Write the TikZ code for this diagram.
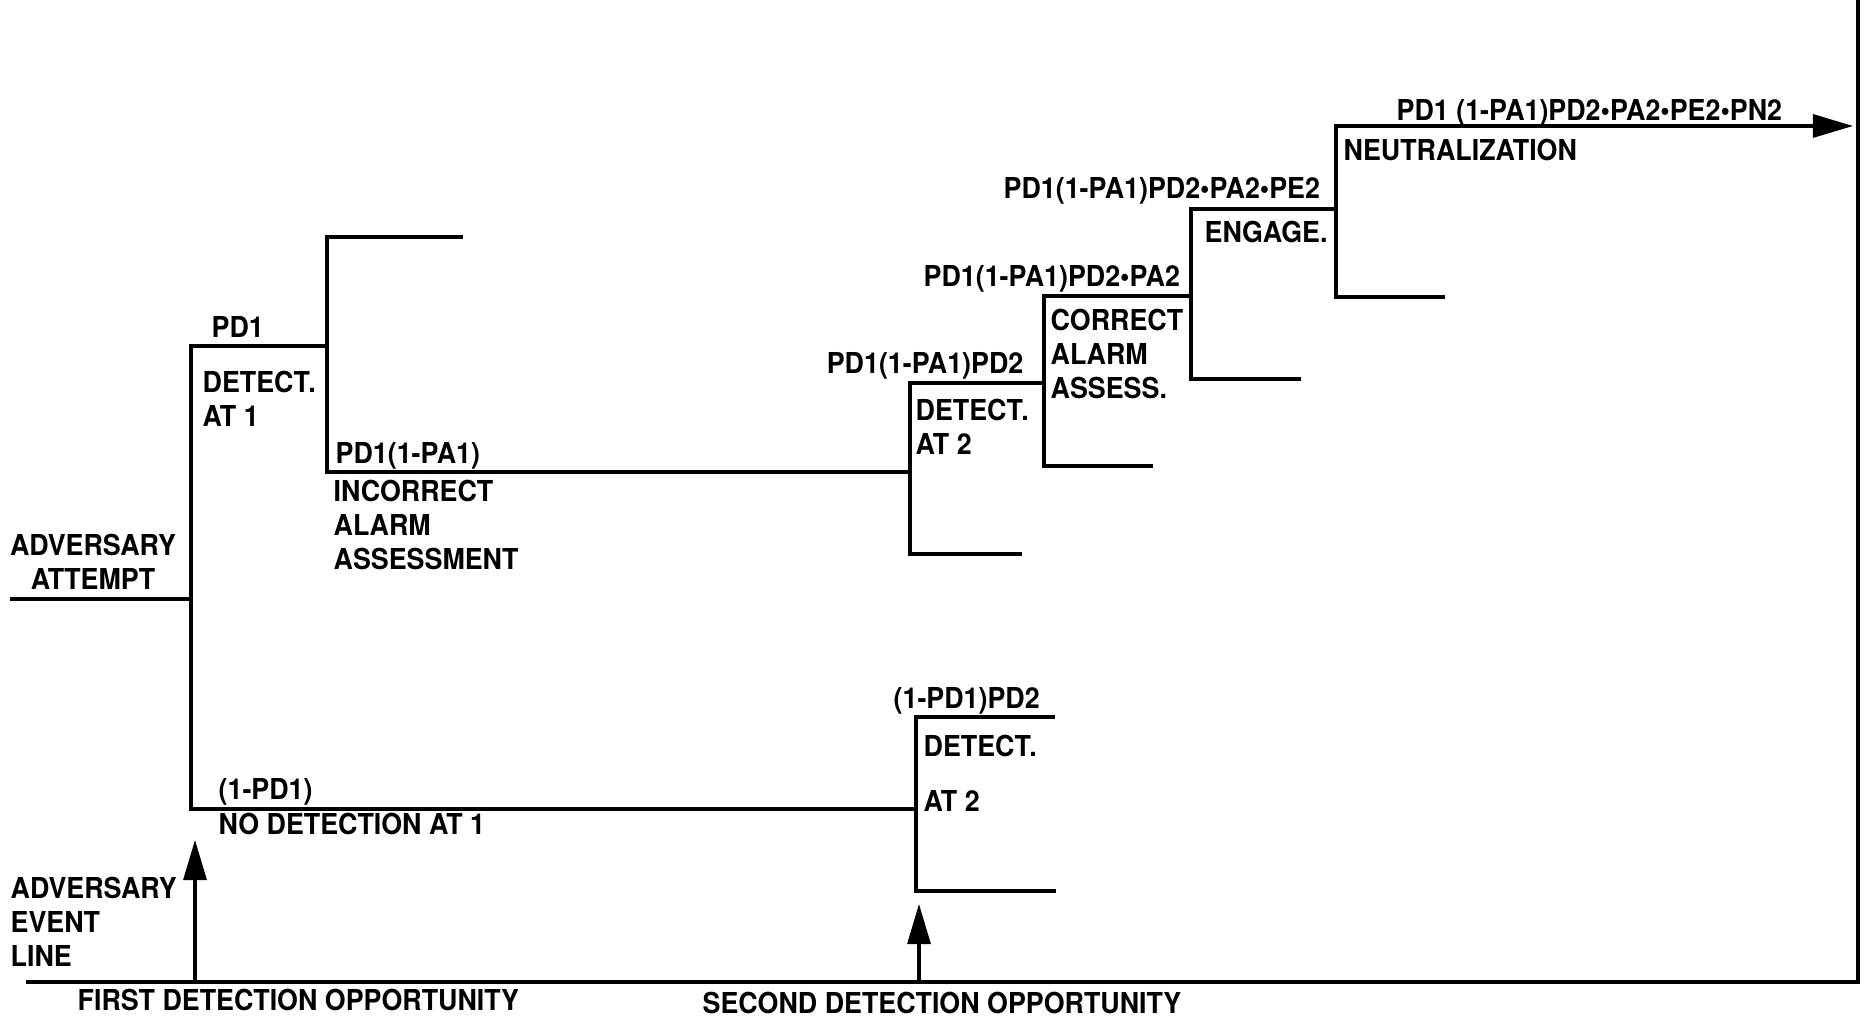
\documentclass[tikz,border=0pt]{standalone}
\usepackage{fontspec}
\newfontfamily\evtfont[FakeStretch=0.93]{TeX Gyre Heros}
\usepackage{tikz}
\usetikzlibrary{arrows.meta}

\begin{document}
\begin{tikzpicture}[
  x=0.01cm, y=-0.01cm,
  branch/.style={line width=0.9pt, line cap=rect},
  frame/.style={line width=1.1pt},
  evtarrow/.style={line width=0.9pt, -{Triangle[length=4mm, width=2.3mm]}},
  lab/.style={font=\evtfont\bfseries\fontsize{8.2}{9.8}\selectfont, inner sep=0pt, anchor=base west},
  multi/.style={lab, align=left, anchor=north west}
]
\useasboundingbox (0,0) rectangle (1865,1019);

% Tree junctions
\coordinate (att) at (12,599);
\coordinate (root) at (191,599);
\coordinate (d1top) at (191,346);
\coordinate (d1bot) at (191,809);
\coordinate (a1) at (327,346);
\coordinate (a1top) at (327,237);
\coordinate (a1stub) at (461,237);
\coordinate (a1bot) at (327,472);
\coordinate (d2) at (910,472);
\coordinate (d2top) at (910,383);
\coordinate (d2bot) at (910,554);
\coordinate (d2stub) at (1020,554);
\coordinate (a2) at (1044,383);
\coordinate (a2top) at (1044,296);
\coordinate (a2bot) at (1044,466);
\coordinate (a2stub) at (1151,466);
\coordinate (e2) at (1191,296);
\coordinate (e2top) at (1191,209);
\coordinate (e2bot) at (1191,379);
\coordinate (e2stub) at (1299,379);
\coordinate (n2) at (1336,209);
\coordinate (n2top) at (1336,126);
\coordinate (n2bot) at (1336,297);
\coordinate (n2stub) at (1443,297);
\coordinate (goal) at (1853,126);

% Branch with no detection at 1
\coordinate (m2) at (916,809);
\coordinate (m2top) at (916,717);
\coordinate (m2bot) at (916,891);
\coordinate (m2topstub) at (1053,717);
\coordinate (m2botstub) at (1054,891);

% Event line and frame
\coordinate (evl) at (26,982);
\coordinate (evr) at (1858,982);
\coordinate (frametop) at (1858,0);
\coordinate (op1) at (195,982);
\coordinate (op1tip) at (195,840);
\coordinate (op2) at (919,982);
\coordinate (op2tip) at (919,904);

\draw[branch] (att) -- (root);
\draw[branch] (d1top) -- (d1bot);
\draw[branch] (d1top) -- (a1);
\draw[branch] (a1stub) -- (a1top) -- (a1bot) -- (d2);
\draw[branch] (d2stub) -- (d2bot) -- (d2top) -- (a2);
\draw[branch] (a2stub) -- (a2bot) -- (a2top) -- (e2);
\draw[branch] (e2stub) -- (e2bot) -- (e2top) -- (n2);
\draw[branch] (n2stub) -- (n2bot) -- (n2top);
\draw[evtarrow] (n2top) -- (goal);

\draw[branch] (d1bot) -- (m2);
\draw[branch] (m2topstub) -- (m2top) -- (m2bot) -- (m2botstub);

\draw[frame] (evl) -- (evr) -- (frametop);
\draw[evtarrow] (op1) -- (op1tip);
\draw[evtarrow] (op2) -- (op2tip);

% Labels
\node[multi, align=center, anchor=north] (attempt) at (93,533) {ADVERSARY\\ATTEMPT};
\node[lab] (pd1) at (211,338) {PD1};
\node[multi] (det1) at (202,370) {DETECT.\\AT 1};
\node[lab] (pa1) at (335,464) {PD1(1-PA1)};
\node[multi] (incorrect) at (333,479) {INCORRECT\\ALARM\\ASSESSMENT};
\node[lab, anchor=base east] (pd2) at (1024,374) {PD1(1-PA1)PD2};
\node[multi] (det2) at (915,398) {DETECT.\\AT 2};
\node[lab] (pa2) at (923,287) {PD1(1-PA1)PD2\textbullet PA2};
\node[multi] (correct) at (1050,308) {CORRECT\\ALARM\\ASSESS.};
\node[lab] (pe2) at (1003,199) {PD1(1-PA1)PD2\textbullet PA2\textbullet PE2};
\node[lab] (engage) at (1204,243) {ENGAGE.};
\node[lab] (pn2) at (1396,121) {PD1 (1-PA1)PD2\textbullet PA2\textbullet PE2\textbullet PN2};
\node[lab] (neutral) at (1343,161) {NEUTRALIZATION};

\node[lab] (nopd1) at (218,800) {(1-PD1)};
\node[lab] (nodet) at (218,835) {NO DETECTION AT 1};
\node[lab] (lowpd2) at (893,709) {(1-PD1)PD2};
\node[lab] (lowdet) at (923,757) {DETECT.};
\node[lab] (lowat) at (923,812) {AT 2};

\node[multi] (evtline) at (10,876) {ADVERSARY\\EVENT\\LINE};
\node[lab] (first) at (77,1011) {FIRST DETECTION OPPORTUNITY};
\node[lab] (second) at (702,1014) {SECOND DETECTION OPPORTUNITY};

\end{tikzpicture}
\end{document}
